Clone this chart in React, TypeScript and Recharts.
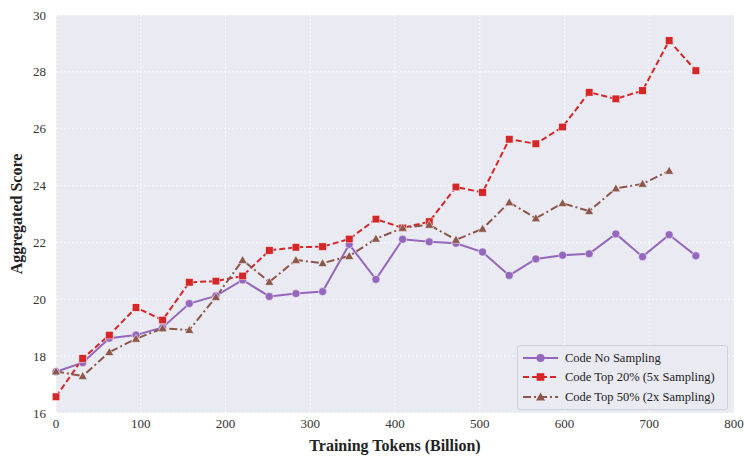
import React from 'react';
import { LineChart, Line, XAxis, YAxis, CartesianGrid } from 'recharts';

const tokens = [0, 31.5, 62.9, 94.4, 125.8, 157.3, 188.7, 220.2, 251.7, 283.1, 314.6, 346.0, 377.5, 409.0, 440.4, 471.9, 503.3, 534.8, 566.2, 597.7, 629.1, 660.6, 692.1, 723.5, 755.0];
const noSampling = [17.45, 17.77, 18.63, 18.74, 19.01, 19.85, 20.12, 20.68, 20.1, 20.2, 20.27, 21.93, 20.7, 22.11, 22.02, 21.97, 21.66, 20.84, 21.42, 21.55, 21.6, 22.3, 21.5, 22.27, 21.53];
const top20 = [16.57, 17.92, 18.74, 19.71, 19.27, 20.6, 20.64, 20.82, 21.72, 21.83, 21.85, 22.12, 22.82, 22.51, 22.73, 23.95, 23.76, 25.63, 25.47, 26.06, 27.28, 27.05, 27.34, 29.1, 28.04];
const top50 = [17.46, 17.3, 18.14, 18.61, 18.98, 18.92, 20.08, 21.38, 20.61, 21.38, 21.27, 21.52, 22.13, 22.51, 22.62, 22.09, 22.48, 23.41, 22.85, 23.38, 23.1, 23.9, 24.06, 24.52, null];
const xTicks = [0, 100, 200, 300, 400, 500, 600, 700, 800];
const yTicks = [16, 18, 20, 22, 24, 26, 28, 30];
const seriesNames = ['Code No Sampling', 'Code Top 20% (5x Sampling)', 'Code Top 50% (2x Sampling)'];

const data = tokens.map((t, i) => ({ t, a: noSampling[i], b: top20[i], c: top50[i] }));

const PURPLE = '#9467bd';
const RED = '#d62728';
const BROWN = '#8c564b';
const FONT = '"Liberation Serif", "Times New Roman", serif';

const circleDot = (p: any) => {
  if (p.cy == null || p.value == null) return <g key={p.index} />;
  return <circle key={p.index} cx={p.cx} cy={p.cy} r={4} fill={PURPLE} stroke="#fff" strokeWidth={0.5} />;
};
const squareDot = (p: any) => {
  if (p.cy == null || p.value == null) return <g key={p.index} />;
  return <rect key={p.index} x={p.cx - 3.8} y={p.cy - 3.8} width={7.6} height={7.6} fill={RED} stroke="#fff" strokeWidth={0.5} />;
};
const triDot = (p: any) => {
  if (p.cy == null || p.value == null) return <g key={p.index} />;
  const s = 4.5;
  return <polygon key={p.index} points={`${p.cx},${p.cy - s} ${p.cx - s},${p.cy + s * 0.75} ${p.cx + s},${p.cy + s * 0.75}`} fill={BROWN} stroke="#fff" strokeWidth={0.5} />;
};

const LegendBox = () => {
  const rows = [
    { name: seriesNames[0], color: PURPLE, dash: undefined, marker: 'c' },
    { name: seriesNames[1], color: RED, dash: '6 3', marker: 's' },
    { name: seriesNames[2], color: BROWN, dash: '8 3 2 3', marker: 't' },
  ];
  return (
    <div style={{ position: 'absolute', left: 517, top: 345, width: 199, background: '#EAEAF2', border: '1px solid #d0d0d8', borderRadius: 3, padding: '2px 6px 2px 4px', fontFamily: FONT, fontSize: 12.5, color: '#222', lineHeight: 1 }}>
      {rows.map((r) => (
        <div key={r.name} style={{ display: 'flex', alignItems: 'center', height: 19.5 }}>
          <svg width={38} height={12} style={{ marginRight: 5 }}>
            <line x1={1} y1={6} x2={36} y2={6} stroke={r.color} strokeWidth={2} strokeDasharray={r.dash} />
            {r.marker === 'c' && <circle cx={18.5} cy={6} r={4} fill={r.color} />}
            {r.marker === 's' && <rect x={14.7} y={2.2} width={7.6} height={7.6} fill={r.color} />}
            {r.marker === 't' && <polygon points="18.5,1.5 14,9.4 23,9.4" fill={r.color} />}
          </svg>
          <span style={{ whiteSpace: 'nowrap' }}>{r.name}</span>
        </div>
      ))}
    </div>
  );
};

export default function App() {
  return (
    <div style={{ position: 'absolute', left: 0, top: 0, width: 745, height: 456, background: '#fff' }}>
      <LineChart width={745} height={456} data={data} margin={{ top: 15, right: 11, left: 0, bottom: 0 }}>
        <CartesianGrid fill="#EAEAF2" stroke="#ffffff" strokeDasharray="2 2" strokeWidth={0.8} />
        <XAxis
          dataKey="t"
          type="number"
          domain={[0, 800]}
          ticks={xTicks}
          height={43}
          axisLine={false}
          tickLine={false}
          tickSize={0}
          tickMargin={6}
          tick={{ fontFamily: FONT, fontSize: 13, fill: '#333' }}
          label={{ value: 'Training Tokens (Billion)', position: 'insideBottom', offset: 5, style: { fontFamily: FONT, fontSize: 16, fontWeight: 'bold', fill: '#222' } }}
        />
        <YAxis
          type="number"
          domain={[16, 30]}
          ticks={yTicks}
          width={56}
          axisLine={false}
          tickLine={false}
          tickSize={0}
          tickMargin={10}
          tick={{ fontFamily: FONT, fontSize: 13, fill: '#333' }}
          label={{ value: 'Aggregated Score', angle: -90, position: 'insideLeft', offset: 16, style: { fontFamily: FONT, fontSize: 16, fontWeight: 'bold', fill: '#222', textAnchor: 'middle' } }}
        />
        <Line dataKey="a" name={seriesNames[0]} stroke={PURPLE} strokeWidth={2} dot={circleDot} activeDot={false} isAnimationActive={false} />
        <Line dataKey="b" name={seriesNames[1]} stroke={RED} strokeWidth={2} strokeDasharray="6 3" dot={squareDot} activeDot={false} isAnimationActive={false} />
        <Line dataKey="c" name={seriesNames[2]} stroke={BROWN} strokeWidth={2} strokeDasharray="8 3 2 3" dot={triDot} activeDot={false} isAnimationActive={false} connectNulls={false} />
      </LineChart>
      <LegendBox />
    </div>
  );
}
